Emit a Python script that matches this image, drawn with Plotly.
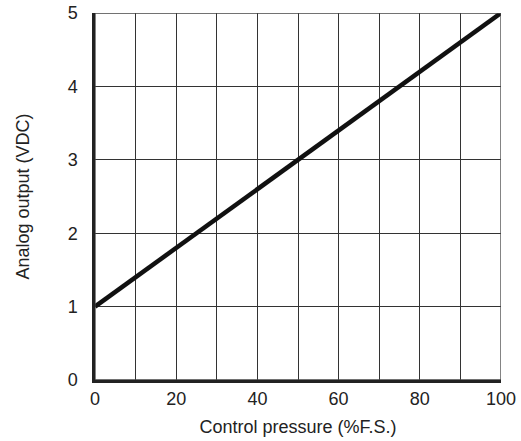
import plotly.graph_objects as go

pressure = [0, 100]
output_v = [1, 5]
x_ticks = [0, 10, 20, 30, 40, 50, 60, 70, 80, 90, 100]
x_labels = ["0", "", "20", "", "40", "", "60", "", "80", "", "100"]
y_ticks = [0, 1, 2, 3, 4, 5]
y_labels = ["0", "1", "2", "3", "4", "5"]

fig = go.Figure()
fig.add_trace(go.Scatter(x=pressure, y=output_v, mode="lines",
                         line=dict(color="#111111", width=4.5), showlegend=False,
                         cliponaxis=False))

font = dict(family="Liberation Sans, Arial, sans-serif", size=18, color="#222222")
fig.update_layout(
    width=521, height=441,
    margin=dict(l=95, r=20, t=13, b=61, autoexpand=False),
    paper_bgcolor="white", plot_bgcolor="white",
    font=font,
    xaxis=dict(range=[0, 100], tickvals=x_ticks, ticktext=x_labels,
               showgrid=True, gridcolor="#333333", gridwidth=1.3,
               showline=True, linecolor="#222222", linewidth=2.5, mirror=False,
               ticks="", ticklabelstandoff=1, zeroline=False, automargin=False,
               title=dict(text="Control pressure (%F.S.)", font=font, standoff=13)),
    yaxis=dict(range=[0, 5], tickvals=y_ticks, ticktext=y_labels,
               showgrid=True, gridcolor="#333333", gridwidth=1.3,
               showline=True, linecolor="#222222", linewidth=2.5,
               ticks="", ticklabelstandoff=11, zeroline=False, automargin=False,
               title=dict(text="Analog output (VDC)", font=font, standoff=34)),
    shapes=[dict(type="rect", xref="x", yref="y", x0=0, x1=100, y0=0, y1=5,
                 line=dict(color="#444444", width=1.3), layer="above")],
)
fig.write_html("out.html")
